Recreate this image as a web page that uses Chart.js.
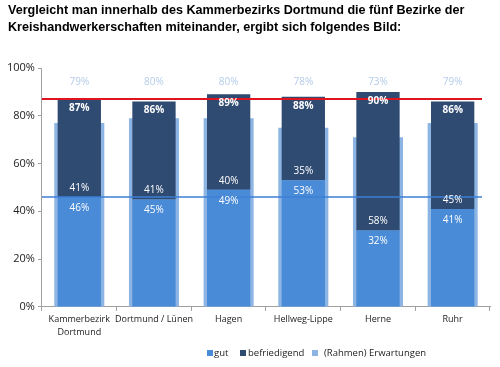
<!DOCTYPE html>
<html>
<head>
<meta charset="utf-8">
<script src="https://cdn.jsdelivr.net/npm/chart.js@4"></script>
<style>
  body { margin: 0; background: #fff; }
  #wrap { position: relative; width: 500px; height: 367px; }
  #titel { position: absolute; left: 8px; top: 2px; font: bold 12.6px "Liberation Sans", Arial, sans-serif; line-height: 17px; color: #000; }
</style>
</head>
<body>
<div id="wrap">
  <div id="titel">Vergleicht man innerhalb des Kammerbezirks Dortmund die fünf Bezirke der<br>Kreishandwerkerschaften miteinander, ergibt sich folgendes Bild:</div>
  <canvas id="bezirkChart" width="500" height="367"></canvas>
</div>
<script>
/* Daten */
const bezirke = [['Kammerbezirk', 'Dortmund'], 'Dortmund / Lünen', 'Hagen', 'Hellweg-Lippe', 'Herne', 'Ruhr'];
const gut = [46, 45, 49, 53, 32, 41];
const befriedigend = [41, 41, 40, 35, 58, 45];
const gesamt = [87, 86, 89, 88, 90, 86];
const erwartungenBalken = [77, 79, 79, 75, 71, 77];
const erwartungenText = ['79%', '80%', '80%', '78%', '73%', '79%'];
const referenzRot = 87;
const referenzBlau = 46;
const yTicks = [0, 20, 40, 60, 80, 100];

const farbeGut = '#4a8bd8';
const farbeBef = '#304b72';
const farbeErw = '#8db5e4';
const schrift = '"Open Sans", sans-serif';

/* Linien, Beschriftungen und Legende */
const extras = {
    id: 'extras',
    afterDatasetsDraw(chart) {
        const ctx = chart.ctx;
        const area = chart.chartArea;
        const y = chart.scales.y;
        const metaGut = chart.getDatasetMeta(0);
        const metaBef = chart.getDatasetMeta(1);
        const metaErw = chart.getDatasetMeta(2);

        // Referenzlinien
        ctx.save();
        ctx.lineWidth = 2;
        ctx.strokeStyle = '#e0141e';
        ctx.beginPath();
        ctx.moveTo(area.left, y.getPixelForValue(referenzRot));
        ctx.lineTo(area.right - 8, y.getPixelForValue(referenzRot));
        ctx.stroke();
        ctx.lineWidth = 1.5;
        ctx.strokeStyle = '#3d7fd6';
        ctx.beginPath();
        ctx.moveTo(area.left, y.getPixelForValue(referenzBlau));
        ctx.lineTo(area.right - 8, y.getPixelForValue(referenzBlau));
        ctx.stroke();

        // Werte
        ctx.textAlign = 'center';
        ctx.textBaseline = 'middle';
        metaGut.data.forEach((bar, i) => {
            const x = bar.x;
            ctx.fillStyle = '#ffffff';
            ctx.font = '10px ' + schrift;
            ctx.fillText(gut[i] + '%', x, bar.y + 11);
            ctx.fillText(befriedigend[i] + '%', x, bar.y - 9);
            ctx.font = 'bold 10px ' + schrift;
            ctx.fillText(gesamt[i] + '%', x, metaBef.data[i].y + 9);
            ctx.font = '10px ' + schrift;
            ctx.fillStyle = '#b4cbe8';
            ctx.fillText(erwartungenText[i], metaErw.data[i].x, area.top + 14);
        });

        // Legende
        const eintraege = [
            { text: 'gut', farbe: farbeGut, box: 207, tx: 214 },
            { text: 'befriedigend', farbe: farbeBef, box: 240, tx: 248 },
            { text: '(Rahmen) Erwartungen', farbe: farbeErw, box: 312, tx: 324 }
        ];
        const ly = 353;
        ctx.font = '9.5px ' + schrift;
        ctx.textAlign = 'left';
        eintraege.forEach(e => {
            ctx.fillStyle = e.farbe;
            ctx.fillRect(e.box, ly - 3, 6, 6);
            ctx.fillStyle = '#222';
            ctx.fillText(e.text, e.tx, ly);
        });
        ctx.restore();
    }
};

new Chart(document.getElementById('bezirkChart'), {
    type: 'bar',
    data: {
        labels: bezirke,
        datasets: [{
            label: 'gut',
            data: gut,
            backgroundColor: farbeGut,
            stack: 'a',
            order: 1,
            grouped: false,
            barPercentage: 0.58,
            categoryPercentage: 1
        }, {
            label: 'befriedigend',
            data: befriedigend,
            backgroundColor: farbeBef,
            stack: 'a',
            order: 2,
            grouped: false,
            barPercentage: 0.58,
            categoryPercentage: 1
        }, {
            label: '(Rahmen) Erwartungen',
            data: erwartungenBalken,
            backgroundColor: farbeErw,
            stack: 'b',
            order: 3,
            grouped: false,
            barPercentage: 0.67,
            categoryPercentage: 1
        }]
    },
    options: {
        responsive: false,
        animation: false,
        layout: { padding: { top: 68, right: 10, bottom: 26, left: 4 } },
        plugins: {
            legend: { display: false },
            tooltip: { enabled: false }
        },
        scales: {
            x: {
                stacked: true,
                grid: { display: true, drawOnChartArea: false, drawTicks: true, tickLength: 4, color: '#a0a0a0' },
                border: { color: '#a0a0a0' },
                ticks: { color: '#222', font: { family: schrift, size: 9, lineHeight: 1.45 }, maxRotation: 0, autoSkip: false, padding: 2 }
            },
            y: {
                stacked: true,
                min: 0,
                max: 100,
                afterBuildTicks: (axis) => { axis.ticks = yTicks.map(v => ({ value: v })); },
                grid: { display: true, drawOnChartArea: false, drawTicks: true, tickLength: 4, color: '#a0a0a0' },
                border: { color: '#a0a0a0' },
                ticks: { color: '#222', font: { family: schrift, size: 11 }, padding: 3, callback: v => v + '%' }
            }
        }
    },
    plugins: [extras]
});
</script>
</body>
</html>
